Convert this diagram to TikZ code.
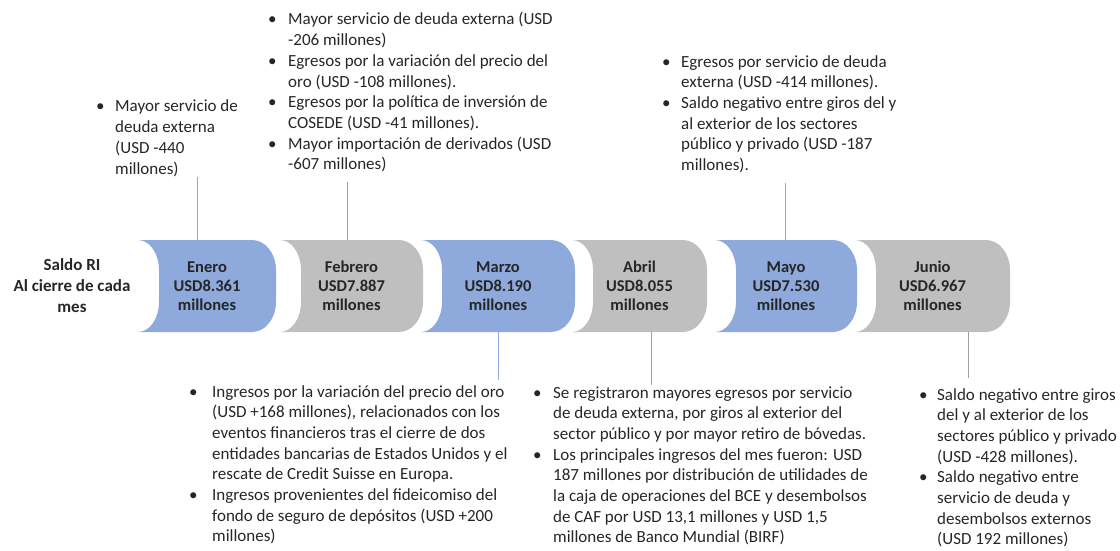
\documentclass[tikz,border=0pt]{standalone}
\usepackage{fontspec}
\setmainfont{Carlito}
\usepackage{array}
\definecolor{mblue}{HTML}{8EA9DB}
\definecolor{mgray}{HTML}{BFBFBF}
\definecolor{lblue}{HTML}{8EA9DB}
\definecolor{lgray}{HTML}{A0A0A0}
\definecolor{txt}{HTML}{262626}
% month shape: #1 = left x, #2 = right x, #3 = fill colour
\newcommand\monthshape[3]{%
  \fill[#3] (#1,240) -- ({#2-24},240) .. controls ({#2-10.75},240) and (#2,253.43) .. (#2,270)
    -- (#2,302) .. controls (#2,318.57) and ({#2-10.75},332) .. ({#2-24},332)
    -- (#1,332) .. controls ({#1+11.6},332) and ({#1+21},318.57) .. ({#1+21},302)
    -- ({#1+21},270) .. controls ({#1+21},253.43) and ({#1+11.6},240) .. (#1,240) -- cycle;}
\newcommand\blist[2]{\begin{tabular}[t]{@{}p{#1}@{}l@{}}#2\end{tabular}}
\begin{document}
\begin{tikzpicture}[x=1pt,y=-1pt,
  month/.style={inner sep=0pt, minimum height=92pt, align=center,
    font=\fontsize{16.5}{19}\selectfont\bfseries, text=txt},
  blk/.style={inner sep=0pt, anchor=base west,
    font=\fontsize{17}{20.7}\selectfont, text=txt},
  lbl/.style={inner sep=0pt, align=center,
    font=\fontsize{17}{21}\selectfont\bfseries, text=txt},
  conb/.style={draw=lblue, line width=1pt},
  cong/.style={draw=lgray, line width=1pt}]
\useasboundingbox (0,0) rectangle (1120,551);

% label
\node[lbl] (saldo) at (72,286) {Saldo RI\\Al cierre de cada\\mes};

% month shapes
\monthshape{138}{276}{mblue}
\node[month, minimum width=138pt] (enero) at (207,286) {Enero\\USD8.361\\millones};
\monthshape{280}{423}{mgray}
\node[month, minimum width=143pt] (febrero) at (351.5,286) {Febrero\\USD7.887\\millones};
\monthshape{421}{575}{mblue}
\node[month, minimum width=154pt] (marzo) at (498,286) {Marzo\\USD8.190\\millones};
\monthshape{572}{707}{mgray}
\node[month, minimum width=135pt] (abril) at (639.5,286) {Abril\\USD8.055\\millones};
\monthshape{715}{857}{mblue}
\node[month, minimum width=142pt] (mayo) at (786,286) {Mayo\\USD7.530\\millones};
\monthshape{855}{1010}{mgray}
\node[month, minimum width=155pt] (junio) at (932.5,286) {Junio\\USD6.967\\millones};

% text blocks
\node[blk] (tEnero) at (96,112) {\blist{19pt}{%
•&Mayor servicio de\\
&deuda externa\\
&(USD -440\\
&millones)}};

\node[blk] (tFebrero) at (268,25) {\blist{20pt}{%
•&Mayor servicio de deuda externa (USD\\
&-206 millones)\\
•&Egresos por la variación del precio del\\
&oro (USD -108 millones).\\
•&Egresos por la política de inversión de\\
&COSEDE (USD -41 millones).\\
•&Mayor importación de derivados (USD\\
&-607 millones)}};

\node[blk] (tMayo) at (662,67) {\blist{19pt}{%
•&Egresos por servicio de deuda\\
&externa (USD -414 millones).\\
•&Saldo negativo entre giros del y\\
&al exterior de los sectores\\
&público y privado (USD -187\\
&millones).}};

\node[blk] (tMarzo) at (189,397) {\blist{23pt}{%
•&Ingresos por la variación del precio del oro\\
&(USD +168 millones), relacionados con los\\
&eventos financieros tras el cierre de dos\\
&entidades bancarias de Estados Unidos y el\\
&rescate de Credit Suisse en Europa.\\
•&Ingresos provenientes del fideicomiso del\\
&fondo de seguro de depósitos (USD +200\\
&millones)}};

\node[blk] (tAbril) at (533,398) {\blist{20pt}{%
•&Se registraron mayores egresos por servicio\\
&de deuda externa, por giros al exterior del\\
&sector público y por mayor retiro de bóvedas.\\
•&Los principales ingresos del mes fueron: USD\\
&187 millones por distribución de utilidades de\\
&la caja de operaciones del BCE y desembolsos\\
&de CAF por USD 13,1 millones y USD 1,5\\
&millones de Banco Mundial (BIRF)}};

\node[blk] (tJunio) at (919,400) {\blist{18pt}{%
•&Saldo negativo entre giros\\
&del y al exterior de los\\
&sectores público y privado\\
&(USD -428 millones).\\
•&Saldo negativo entre\\
&servicio de deuda y\\
&desembolsos externos\\
&(USD 192 millones)}};

% connectors
\coordinate (cEn) at (197,177);
\draw[conb] (cEn) -- (cEn |- enero.north);
\coordinate (cFe) at (347,182);
\draw[cong] (cFe) -- (cFe |- febrero.north);
\coordinate (cMy) at (785,183);
\draw[conb] (cMy) -- (cMy |- mayo.north);
\coordinate (cMa) at (498,380);
\draw[conb] (cMa |- marzo.south) -- (cMa);
\coordinate (cAb) at (651,385);
\draw[cong] (cAb |- abril.south) -- (cAb);
\coordinate (cJu) at (968,378);
\draw[cong] (cJu |- junio.south) -- (cJu);
\end{tikzpicture}
\end{document}
